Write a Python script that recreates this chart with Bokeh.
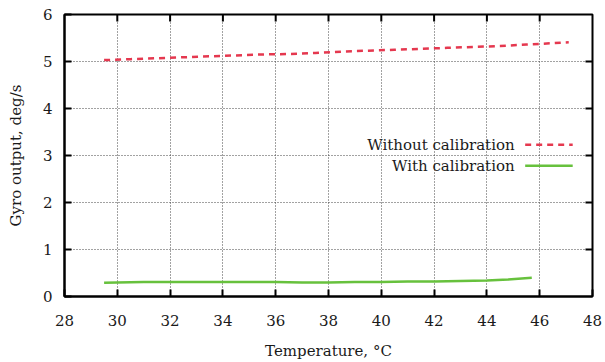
from bokeh.plotting import figure
from bokeh.models import Range1d, FixedTicker, Label
from bokeh.embed import file_html
from bokeh.resources import INLINE

# Data
temp_without = [29.5, 30.5, 31.5, 32.5, 33.5, 34.5, 35.5, 36.5, 37.5, 38.5,
                39.5, 40.5, 41.5, 42.5, 43.5, 44.5, 45.5, 46.5, 47.1]
gyro_without = [5.03, 5.05, 5.07, 5.09, 5.11, 5.13, 5.15, 5.16, 5.18, 5.21,
                5.23, 5.25, 5.27, 5.29, 5.31, 5.33, 5.36, 5.39, 5.41]
temp_with = [29.5, 30.0, 31.0, 32.0, 33.0, 34.0, 35.0, 36.0, 37.0, 38.0,
             39.0, 40.0, 41.0, 42.0, 43.0, 44.0, 44.8, 45.7]
gyro_with = [0.29, 0.30, 0.31, 0.31, 0.31, 0.31, 0.31, 0.31, 0.30, 0.30,
             0.31, 0.31, 0.32, 0.32, 0.33, 0.34, 0.36, 0.40]
x_ticks = [28, 30, 32, 34, 36, 38, 40, 42, 44, 46, 48]
y_ticks = [0, 1, 2, 3, 4, 5, 6]
series_names = ["Without calibration", "With calibration"]

RED = "#e5384f"
GREEN = "#67c13d"
FONT = "DejaVu Serif"
TXT = "#1a1a1a"

X0, X1, Y0, Y1 = 28, 48, 0, 6

p = figure(width=605, height=362, output_backend="svg", toolbar_location=None,
           x_range=Range1d(X0, X1), y_range=Range1d(Y0, Y1),
           x_axis_label="Temperature, °C", y_axis_label="Gyro output, deg/s")
p.min_border_left = 64
p.min_border_right = 13
p.min_border_top = 14
p.min_border_bottom = 66
p.background_fill_color = "white"
p.border_fill_color = "white"
p.outline_line_color = "black"
p.outline_line_width = 2

for ax in (p.xaxis[0], p.yaxis[0]):
    ax.major_tick_in = 7
    ax.major_tick_out = 0
    ax.minor_tick_line_color = None
    ax.axis_line_color = "black"
    ax.axis_line_width = 2
    ax.major_tick_line_width = 2
    ax.major_label_text_font = FONT
    ax.major_label_text_font_size = "15px"
    ax.major_label_text_color = TXT
    ax.axis_label_text_font = FONT
    ax.axis_label_text_font_size = "15px"
    ax.axis_label_text_font_style = "normal"
    ax.axis_label_text_color = TXT

p.xaxis[0].ticker = FixedTicker(ticks=x_ticks)
p.yaxis[0].ticker = FixedTicker(ticks=y_ticks)
p.xaxis[0].major_label_standoff = 18
p.xaxis[0].axis_label_standoff = 13
p.yaxis[0].major_label_standoff = 12
p.yaxis[0].axis_label_standoff = 15

# mirrored inward ticks on top and right edges (7 px long)
frame_w = 605 - 64 - 13
frame_h = 362 - 14 - 66
dy = 7 * (Y1 - Y0) / frame_h
dx = 7 * (X1 - X0) / frame_w
p.segment(x0=x_ticks[1:-1], y0=[Y1] * (len(x_ticks) - 2),
          x1=x_ticks[1:-1], y1=[Y1 - dy] * (len(x_ticks) - 2),
          line_color="black", line_width=2)
p.segment(x0=[X1] * (len(y_ticks) - 2), y0=y_ticks[1:-1],
          x1=[X1 - dx] * (len(y_ticks) - 2), y1=y_ticks[1:-1],
          line_color="black", line_width=2)

p.xgrid.ticker = FixedTicker(ticks=x_ticks[1:-1])
p.ygrid.ticker = FixedTicker(ticks=y_ticks[1:-1])
for g in (p.xgrid, p.ygrid):
    g.grid_line_color = "#444444"
    g.grid_line_dash = "1 2"
    g.grid_line_width = 1

p.line(temp_without, gyro_without, line_color=RED, line_width=2.5, line_dash="6 5")
p.line(temp_with, gyro_with, line_color=GREEN, line_width=2.5)

# legend (text on the left, sample on the right)
legend_y = [3.23, 2.78]
styles = [dict(line_color=RED, line_dash="6 5"), dict(line_color=GREEN)]
for name, yy, st in zip(series_names, legend_y, styles):
    p.add_layout(Label(x=45.05, y=yy, text=name, text_align="right",
                       text_baseline="middle", text_font=FONT,
                       text_font_size="15px", text_color=TXT))
    p.line([45.45, 47.25], [yy, yy], line_width=2.5, **st)

open("out.html", "w").write(file_html(p, INLINE))
